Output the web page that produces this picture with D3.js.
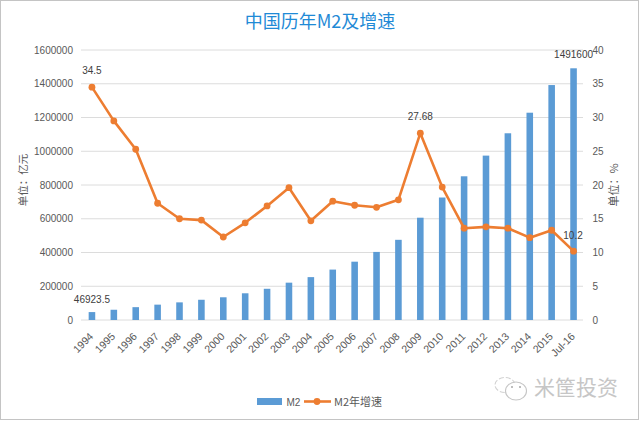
<!DOCTYPE html>
<html>
<head>
<meta charset="utf-8">
<script src="https://cdnjs.cloudflare.com/ajax/libs/d3/7.8.5/d3.min.js"></script>
<style>
html, body { margin: 0; padding: 0; background: #fff; }
svg { display: block; font-family: "Liberation Sans", "Noto Sans CJK SC", sans-serif; }
.axis path, .axis line { display: none; }
.axis text { fill: #595959; font-size: 10px; }
</style>
</head>
<body>
<svg width="640" height="421"></svg>
<script>
const categories = ['1994','1995','1996','1997','1998','1999','2000','2001','2002','2003','2004','2005','2006','2007','2008','2009','2010','2011','2012','2013','2014','2015','Jul-16']
const m2Values = [46923.5,60750,76095,90995,104499,119898,134610,158302,185007,221223,254107,298756,345578,403442,475167,606225,725852,851591,974149,1106525,1228375,1392278,1491600]
const growthValues = [34.5,29.5,25.3,17.3,15,14.8,12.3,14.4,16.9,19.6,14.7,17.6,17,16.7,17.8,27.68,19.7,13.6,13.8,13.6,12.2,13.3,10.2]
const leftTicks = [0,200000,400000,600000,800000,1000000,1200000,1400000,1600000]
const rightTicks = [0,5,10,15,20,25,30,35,40]

const svg = d3.select('svg')
const width = +svg.attr('width')
const height = +svg.attr('height')

const plotLeft = 81
const plotRight = 584.5
const gridRight = 583
const plotTop = 50
const plotBottom = 320

const barBlue = '#5b9bd5'
const lineOrange = '#ed7d31'
const textGrey = '#595959'
const cjk = '"Noto Sans CJK SC", sans-serif'

// frame
svg.append('rect')
    .attr('x', 0.5).attr('y', 0.5)
    .attr('width', width - 2).attr('height', height - 2)
    .attr('fill', '#fff')
    .attr('stroke', '#c4c4c4')

const x = d3.scaleBand().domain(categories).range([plotLeft, plotRight]).paddingInner(0.7).paddingOuter(0.35)
const yLeft = d3.scaleLinear().domain([0, 1600000]).range([plotBottom, plotTop])
const yRight = d3.scaleLinear().domain([0, 40]).range([plotBottom, plotTop])
const cx = d => x(d) + x.bandwidth() / 2

// gridlines
svg.append('g').selectAll('line').data(leftTicks).join('line')
    .attr('x1', plotLeft).attr('x2', gridRight)
    .attr('y1', d => yLeft(d)).attr('y2', d => yLeft(d))
    .attr('stroke', '#dcdcdc').attr('stroke-width', 1)

// axes
svg.append('g').attr('class', 'axis')
    .attr('transform', `translate(${plotLeft},0)`)
    .call(d3.axisLeft(yLeft).tickValues(leftTicks).tickFormat(d3.format('d')).tickSize(0).tickPadding(8))

svg.append('g').attr('class', 'axis')
    .attr('transform', `translate(${plotRight},0)`)
    .call(d3.axisRight(yRight).tickValues(rightTicks).tickSize(0).tickPadding(8))

svg.append('g').attr('class', 'axis')
    .attr('transform', `translate(0,${plotBottom})`)
    .call(d3.axisBottom(x).tickSize(0).tickPadding(0))
    .selectAll('text')
        .attr('text-anchor', 'end')
        .attr('dy', 0)
        .attr('y', 0)
        .style('font-size', '10.5px')
        .attr('transform', 'translate(2,17) rotate(-45)')

// bars
svg.append('g').selectAll('rect').data(categories).join('rect')
    .attr('x', d => x(d))
    .attr('width', x.bandwidth())
    .attr('y', (d, i) => yLeft(m2Values[i]))
    .attr('height', (d, i) => plotBottom - yLeft(m2Values[i]))
    .attr('fill', barBlue)

// line + markers
const line = d3.line()
    .x((d, i) => cx(categories[i]))
    .y(d => yRight(d))

svg.append('path')
    .attr('d', line(growthValues))
    .attr('fill', 'none')
    .attr('stroke', lineOrange)
    .attr('stroke-width', 2.6)
    .attr('stroke-linejoin', 'round')

svg.append('g').selectAll('circle').data(growthValues).join('circle')
    .attr('cx', (d, i) => cx(categories[i]))
    .attr('cy', d => yRight(d))
    .attr('r', 3.4)
    .attr('fill', lineOrange)

// data labels
const dataLabel = (txt, xPos, yPos) => svg.append('text')
    .attr('x', xPos).attr('y', yPos)
    .attr('text-anchor', 'middle')
    .attr('font-size', 10)
    .attr('fill', '#404040')
    .text(txt)

dataLabel('34.5', cx('1994'), 74)
dataLabel('27.68', cx('2009'), 120)
dataLabel('10.2', cx('Jul-16') - 0.5, 239)
dataLabel('46923.5', cx('1994'), 303)
dataLabel('1491600', cx('Jul-16'), 58)

// title
svg.append('text')
    .attr('x', 320).attr('y', 28)
    .attr('text-anchor', 'middle')
    .attr('font-size', 18)
    .attr('font-family', cjk)
    .attr('fill', '#1f8ad6')
    .text('中国历年M2及增速')

// axis titles
svg.append('text')
    .attr('transform', 'translate(27,180) rotate(-90)')
    .attr('text-anchor', 'middle')
    .attr('font-size', 10.5)
    .attr('font-family', cjk)
    .attr('fill', textGrey)
    .text('单位：亿元')

svg.append('text')
    .attr('transform', 'translate(618,185) rotate(-90)')
    .attr('text-anchor', 'middle')
    .attr('font-size', 11)
    .attr('font-family', cjk)
    .attr('fill', textGrey)
    .text('单位：%')

// legend
const legend = svg.append('g')
legend.append('rect')
    .attr('x', 257).attr('y', 398).attr('width', 25).attr('height', 7)
    .attr('fill', barBlue)
legend.append('text')
    .attr('x', 286.5).attr('y', 405.5)
    .attr('font-size', 10)
    .attr('fill', textGrey)
    .text('M2')
legend.append('line')
    .attr('x1', 304).attr('x2', 331).attr('y1', 401.5).attr('y2', 401.5)
    .attr('stroke', lineOrange).attr('stroke-width', 2.6)
legend.append('circle')
    .attr('cx', 317).attr('cy', 401.5).attr('r', 3.4)
    .attr('fill', lineOrange)
legend.append('text')
    .attr('x', 334).attr('y', 405.5)
    .attr('font-size', 11)
    .attr('font-family', cjk)
    .attr('fill', textGrey)
    .text('M2年增速')

// watermark
const mark = svg.append('g')
    .attr('fill', 'none').attr('stroke', '#d2d2d2').attr('stroke-width', 1.1)
mark.append('ellipse').attr('cx', 505).attr('cy', 385).attr('rx', 10).attr('ry', 7.5)
    .attr('stroke-dasharray', '5 2')
mark.append('ellipse').attr('cx', 516).attr('cy', 391).attr('rx', 10.5).attr('ry', 9)
    .attr('fill', '#fff').attr('stroke', '#c6c6c6')
svg.append('g').selectAll('circle').data([512, 520]).join('circle')
    .attr('cx', d => d).attr('cy', 387).attr('r', 1)
    .attr('fill', '#a8a8a8')
svg.append('text')
    .attr('x', 534).attr('y', 395)
    .attr('font-size', 21)
    .attr('font-family', cjk)
    .attr('fill', '#c6c6c6')
    .text('米筐投资')
</script>
</body>
</html>
